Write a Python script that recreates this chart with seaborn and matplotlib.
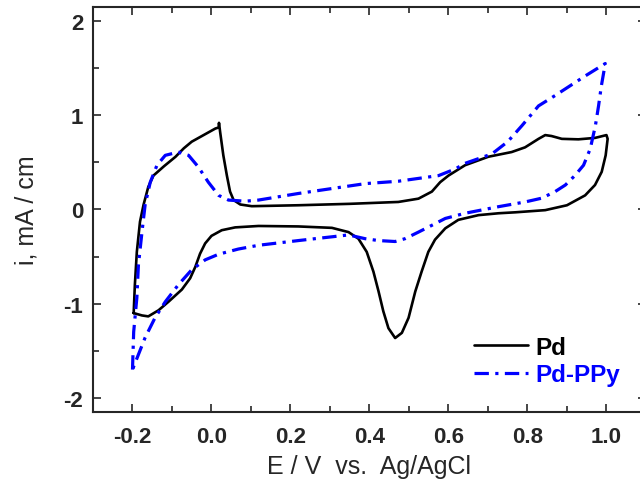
import matplotlib
matplotlib.use("Agg")
import matplotlib.pyplot as plt
from matplotlib.ticker import MultipleLocator
import seaborn as sns
import numpy as np
import pandas as pd

# Pd cyclic voltammogram (anodic branch then cathodic branch)
pd_E = [-0.197, -0.194, -0.189, -0.181, -0.172, -0.16, -0.147, -0.12, -0.091, -0.07, -0.05,
        -0.02, 0.01, 0.018, 0.019, 0.022, 0.03, 0.039, 0.047, 0.056, 0.073, 0.102,
        0.22, 0.35, 0.473, 0.524, 0.558, 0.579, 0.6, 0.642, 0.701, 0.76, 0.794, 0.828,
        0.845, 0.861, 0.887, 0.929, 0.971, 1.0,
        1.003, 0.998, 0.988, 0.971, 0.946, 0.90, 0.845, 0.769, 0.727, 0.676, 0.625, 0.592,
        0.566, 0.549, 0.532, 0.516, 0.499, 0.482, 0.465, 0.448, 0.435, 0.423, 0.41, 0.393,
        0.372, 0.347, 0.305, 0.22, 0.119, 0.06, 0.026, 0.0, -0.016, -0.029, -0.041, -0.054,
        -0.075, -0.109, -0.134, -0.16, -0.176, -0.197]
pd_i = [-1.10, -0.80, -0.45, -0.13, 0.05, 0.24, 0.36, 0.46, 0.56, 0.65, 0.72,
        0.79, 0.86, 0.87, 0.92, 0.82, 0.575, 0.36, 0.19, 0.10, 0.053, 0.035,
        0.045, 0.06, 0.08, 0.115, 0.19, 0.29, 0.36, 0.47, 0.56, 0.61, 0.66, 0.75,
        0.79, 0.78, 0.75, 0.745, 0.76, 0.79,
        0.75, 0.575, 0.40, 0.26, 0.15, 0.045, -0.007, -0.03, -0.04, -0.06, -0.11, -0.20,
        -0.32, -0.45, -0.66, -0.87, -1.15, -1.31, -1.365, -1.26, -1.08, -0.87, -0.66, -0.45,
        -0.31, -0.24, -0.195, -0.18, -0.175, -0.19, -0.22, -0.28, -0.36, -0.47, -0.61, -0.73,
        -0.85, -0.98, -1.07, -1.135, -1.125, -1.10]

# Pd-PPy cyclic voltammogram
ppy_E = [-0.2, -0.197, -0.189, -0.185, -0.176, -0.168, -0.155, -0.138, -0.117, -0.084,
         -0.058, -0.033, -0.008, 0.018, 0.043, 0.085, 0.119, 0.22, 0.39, 0.473, 0.524,
         0.575, 0.617, 0.642, 0.676, 0.71, 0.75, 0.786, 0.828, 0.87, 0.947, 0.997,
         0.987, 0.98, 0.972, 0.959, 0.942, 0.92, 0.896, 0.87, 0.836, 0.794, 0.727, 0.642,
         0.592, 0.557, 0.524, 0.49, 0.465, 0.423, 0.389, 0.347, 0.305, 0.262, 0.22, 0.119,
         0.068, 0.018, -0.016, -0.05, -0.084, -0.117, -0.143, -0.168, -0.2]
ppy_i = [-1.70, -1.30, -0.94, -0.59, -0.24, 0.05, 0.29, 0.47, 0.575, 0.61,
         0.575, 0.45, 0.29, 0.15, 0.10, 0.088, 0.10, 0.17, 0.275, 0.30, 0.33,
         0.36, 0.43, 0.49, 0.54, 0.59, 0.72, 0.89, 1.10, 1.21, 1.42, 1.55,
         1.31, 1.10, 0.89, 0.645, 0.47, 0.36, 0.26, 0.19, 0.12, 0.08, 0.03, -0.04,
         -0.095, -0.17, -0.24, -0.31, -0.34, -0.33, -0.31, -0.27, -0.29, -0.31, -0.33, -0.38,
         -0.42, -0.475, -0.535, -0.64, -0.80, -0.98, -1.15, -1.36, -1.70]

sns.set_style("ticks")
plt.rcParams['font.family'] = ['Liberation Sans', 'DejaVu Sans']

df_pd = pd.DataFrame({"E": pd_E, "i": pd_i})
df_ppy = pd.DataFrame({"E": ppy_E, "i": ppy_i})

fig = plt.figure(figsize=(6.4, 4.85), dpi=100)
ax = fig.add_axes([0.1453, 0.1485, 0.864, 0.835])

sns.lineplot(data=df_pd, x="E", y="i", sort=False, estimator=None, ax=ax,
             color="black", linewidth=1.9, label="Pd")
sns.lineplot(data=df_ppy, x="E", y="i", sort=False, estimator=None, ax=ax,
             color="#0000ff", linewidth=2.3, label="Pd-PPy")
ax.lines[1].set_dashes([4.5, 2.0, 1.0, 2.0])
for ln in ax.lines:
    ln.set_solid_joinstyle("round")

ax.set_xlim(-0.3, 1.1)
ax.set_ylim(-2.15, 2.15)
ax.xaxis.set_minor_locator(MultipleLocator(0.1))
ax.yaxis.set_minor_locator(MultipleLocator(0.5))
ax.set_xticks([-0.2, 0.0, 0.2, 0.4, 0.6, 0.8, 1.0])
ax.set_xticklabels(["-0.2", "0.0", "0.2", "0.4", "0.6", "0.8", "1.0"])
ax.set_yticks([-2, -1, 0, 1, 2])
ax.set_yticklabels(["-2", "-1", "0", "1", "2"])
ax.tick_params(which="both", direction="in", top=True, right=True, width=1.2,
               labelsize=16, pad=7)
ax.tick_params(axis="x", which="both", pad=10)
ax.tick_params(which="major", length=6)
ax.tick_params(which="minor", length=4)
for lab in ax.get_xticklabels() + ax.get_yticklabels():
    lab.set_fontweight("bold")
for s in ax.spines.values():
    s.set_linewidth(1.5)

ax.set_xlabel("E / V  vs.  Ag/AgCl", fontsize=18, labelpad=5)
ax.set_ylabel("i, mA / cm", fontsize=18, labelpad=18)

leg = ax.legend(loc="lower right", bbox_to_anchor=(0.975, 0.033), frameon=False,
                borderpad=0, prop={"weight": "bold", "size": 17.5}, handlelength=2.2,
                handletextpad=0.3, labelspacing=0.2)
for txt, col in zip(leg.get_texts(), ["black", "#0000ff"]):
    txt.set_color(col)

fig.savefig("out.png", dpi=100)
